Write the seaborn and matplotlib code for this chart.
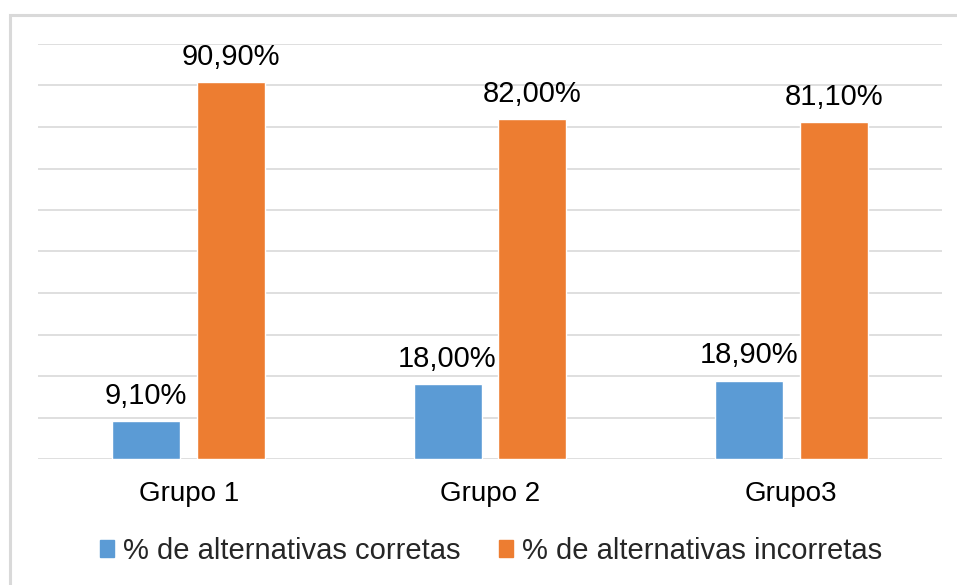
import matplotlib
matplotlib.use("Agg")
import matplotlib.pyplot as plt
import seaborn as sns
import pandas as pd
from matplotlib.patches import Rectangle

categories = ["Grupo 1", "Grupo 2", "Grupo3"]
series_names = ["% de alternativas corretas", "% de alternativas incorretas"]
corretas = [9.1, 18.0, 18.9]
incorretas = [90.9, 82.0, 81.1]
colors = ["#5B9BD5", "#ED7D31"]

df = pd.DataFrame({
    "grupo": categories * 2,
    "serie": [series_names[0]] * 3 + [series_names[1]] * 3,
    "valor": corretas + incorretas,
})

sns.set_theme(style="white")
plt.rcParams["font.family"] = ["Liberation Sans", "DejaVu Sans"]

fig = plt.figure(figsize=(9.57, 5.85), dpi=100)
ax = fig.add_axes([38/957, 1-459/585, (942-38)/957, (459-44)/585])

sns.barplot(data=df, x="grupo", y="valor", hue="serie", palette=colors,
            width=0.564, gap=0.2, ax=ax, saturation=1, legend=True)

ax.set_ylim(0, 100)
ax.set_xlim(-0.5, 2.5)
ax.set_yticks(range(0, 101, 10))
ax.set_yticklabels([])
ax.yaxis.grid(True, color="#D9D9D9", linewidth=1.2)
ax.set_axisbelow(True)
for s in ax.spines.values():
    s.set_visible(False)
ax.set_xlabel("")
ax.set_ylabel("")
ax.tick_params(axis="x", length=0, labelsize=20, pad=16, colors="#000000")
ax.tick_params(axis="y", length=0)

for cont in ax.containers:
    ax.bar_label(cont, labels=[f"{v:.2f}".replace(".", ",") + "%" for v in cont.datavalues],
                 padding=8, fontsize=21, color="#000000")

ax.get_legend().remove()
handles = [Rectangle((0, 0), 1, 1, color=c) for c in colors]
fig.legend(handles, series_names, loc="center", bbox_to_anchor=(491/957, 1-551/585),
           ncol=2, frameon=False, fontsize=21, handlelength=0.5, handleheight=0.5,
           handletextpad=0.3, columnspacing=1.3)

fig.patches.append(Rectangle((10/957, -0.1), 1.2, 1-15/585+0.1, transform=fig.transFigure,
                             fill=False, edgecolor="#D9D9D9", linewidth=2.2, figure=fig))

fig.savefig("out.png", dpi=100)
